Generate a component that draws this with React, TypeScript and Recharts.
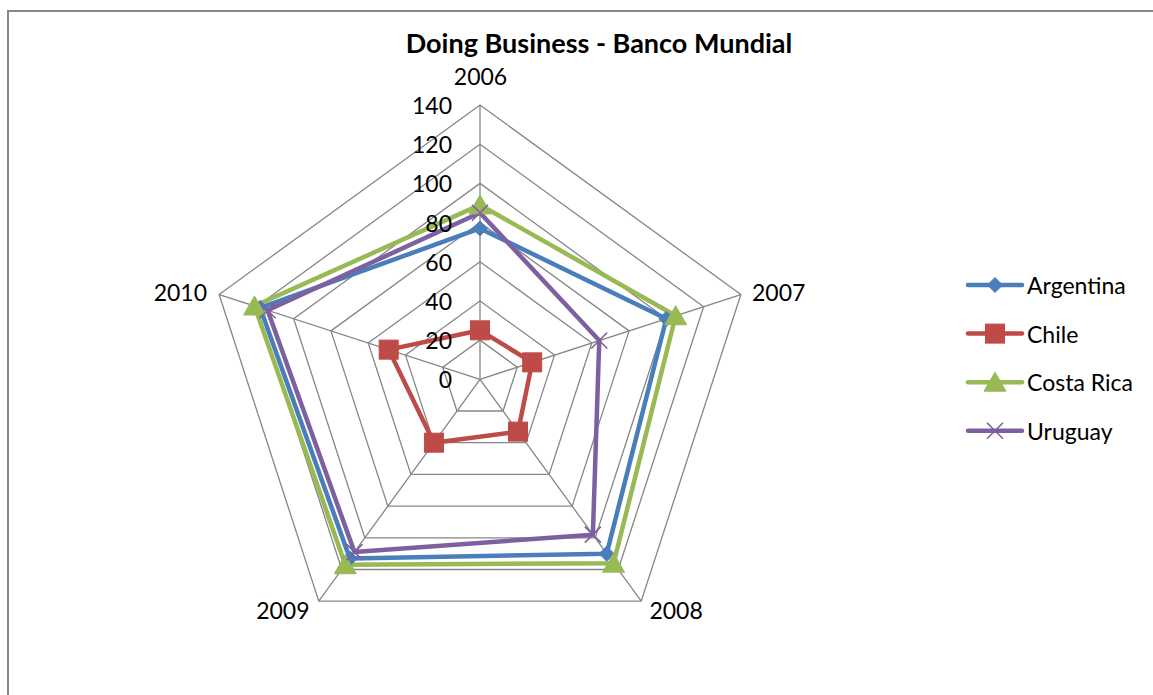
import React from 'react';
import { RadarChart, Radar, PolarGrid, PolarAngleAxis, PolarRadiusAxis, Legend } from 'recharts';

// ---- data ----
const years = ['2006', '2007', '2008', '2009', '2010'];
const argentina = [77, 100, 110, 113, 118];
const chile = [25, 28, 33, 40, 49];
const costaRica = [89, 105, 116, 117, 121];
const uruguay = [85, 64, 98, 109, 114];
const radiusTicks = [0, 20, 40, 60, 80, 100, 120, 140];
const seriesNames = ['Argentina', 'Chile', 'Costa Rica', 'Uruguay'];
const title = 'Doing Business - Banco Mundial';

const data = years.map((y, i) => ({
  year: y,
  Argentina: argentina[i],
  Chile: chile[i],
  'Costa Rica': costaRica[i],
  Uruguay: uruguay[i],
}));

// ---- styles ----
const FONT = 'Lato, "Open Sans", sans-serif';
const LABEL_SIZE = 23;
const styles: Record<string, { color: string; shape: string }> = {
  Argentina: { color: '#4A7EBB', shape: 'diamond' },
  Chile: { color: '#BE4B48', shape: 'square' },
  'Costa Rica': { color: '#98B954', shape: 'triangle' },
  Uruguay: { color: '#7D60A0', shape: 'x' },
};

function Marker({ shape, color, x, y }: { shape: string; color: string; x: number; y: number }) {
  if (shape === 'diamond') {
    const s = 7.5;
    return <polygon points={`${x},${y - s} ${x + s},${y} ${x},${y + s} ${x - s},${y}`} fill={color} stroke={color} strokeWidth={1} />;
  }
  if (shape === 'square') {
    const s = 9.5;
    return <rect x={x - s} y={y - s} width={2 * s} height={2 * s} fill={color} stroke={color} strokeWidth={1} />;
  }
  if (shape === 'triangle') {
    return <polygon points={`${x},${y - 10} ${x + 11},${y + 9} ${x - 11},${y + 9}`} fill={color} stroke={color} strokeWidth={1} />;
  }
  const s = 8;
  return (
    <g stroke={color} strokeWidth={1.6}>
      <line x1={x - s} y1={y - s} x2={x + s} y2={y + s} />
      <line x1={x - s} y1={y + s} x2={x + s} y2={y - s} />
    </g>
  );
}

const makeDot = (name: string) => (props: any) => {
  const { cx, cy, index } = props;
  const st = styles[name];
  return (
    <g key={`${name}-dot-${index}`}>
      <Marker shape={st.shape} color={st.color} x={cx} y={cy} />
    </g>
  );
};

const AngleTick = (props: any) => {
  const { x, y, payload, textAnchor } = props;
  const idx = years.indexOf(String(payload.value));
  const angle = typeof payload.coordinate === 'number' ? payload.coordinate : 90 - idx * 72;
  const sin = Math.sin((angle * Math.PI) / 180);
  let dx = 0;
  let dy = 0;
  if (textAnchor === 'middle') {
    dx = 0.5;
    dy = -21.5;
  } else {
    dx = textAnchor === 'start' ? 3.5 : -4.5;
    dy = sin < 0 ? 2.5 : -0.5;
  }
  return (
    <text x={x + dx} y={y + dy} textAnchor={textAnchor} dominantBaseline="central" fontFamily={FONT} fontSize={LABEL_SIZE} fill="#000">
      {payload.value}
    </text>
  );
};

const RadiusTick = (props: any) => {
  const { x, y, payload } = props;
  return (
    <text x={x - 28} y={y} textAnchor="end" dominantBaseline="central" fontFamily={FONT} fontSize={LABEL_SIZE} fill="#000">
      {payload.value}
    </text>
  );
};

const renderLegend = () => (
  <svg width={190} height={190}>
    {seriesNames.map((name, i) => {
      const st = styles[name];
      const y = 17 + i * 48.6;
      return (
        <g key={name}>
          <line x1={8} y1={y} x2={62} y2={y} stroke={st.color} strokeWidth={4.5} strokeLinecap="round" />
          <Marker shape={st.shape} color={st.color} x={35} y={y} />
          <text x={67} y={y} dominantBaseline="central" fontFamily={FONT} fontSize={LABEL_SIZE} fill="#000">
            {name}
          </text>
        </g>
      );
    })}
  </svg>
);

export default function App() {
  return (
    <div style={{ position: 'fixed', left: 0, top: 0, width: 1153, height: 695, overflow: 'hidden', background: '#fff' }}>
      <div
        style={{
          position: 'absolute',
          left: 7,
          top: 10,
          width: 1300,
          height: 800,
          borderLeft: '2px solid #878787',
          borderTop: '2px solid #878787',
          boxSizing: 'border-box',
        }}
      />
      <div style={{ position: 'absolute', left: 0, top: 0 }}>
        <RadarChart
          width={1153}
          height={695}
          data={data}
          cx={480}
          cy={379.3}
          outerRadius={274.3}
          margin={{ top: 0, right: 0, bottom: 0, left: 0 }}
        >
          <PolarGrid gridType="polygon" stroke="#868686" strokeWidth={1.3} />
          <PolarAngleAxis dataKey="year" tick={AngleTick} axisLine={false} tickLine={false} />
          <PolarRadiusAxis
            angle={90}
            domain={[0, 140]}
            ticks={radiusTicks as any}
            tickCount={8}
            axisLine={false}
            tickLine={false}
            tick={RadiusTick}
          />
          {seriesNames.map((name) => (
            <Radar
              key={name}
              name={name}
              dataKey={name}
              stroke={styles[name].color}
              strokeWidth={4.5}
              strokeLinejoin="round"
              fill="none"
              fillOpacity={0}
              dot={makeDot(name)}
              isAnimationActive={false}
            />
          ))}
          <Legend
            layout="vertical"
            align="right"
            verticalAlign="middle"
            content={renderLegend}
            wrapperStyle={{ left: 960, top: 268, width: 190, height: 190 }}
          />
        </RadarChart>
      </div>
      <div
        style={{
          position: 'absolute',
          left: 299,
          width: 600,
          top: 28,
          height: 30,
          lineHeight: '30px',
          textAlign: 'center',
          fontFamily: FONT,
          fontWeight: 700,
          fontSize: 27,
          color: '#000',
        }}
      >
        {title}
      </div>
    </div>
  );
}
